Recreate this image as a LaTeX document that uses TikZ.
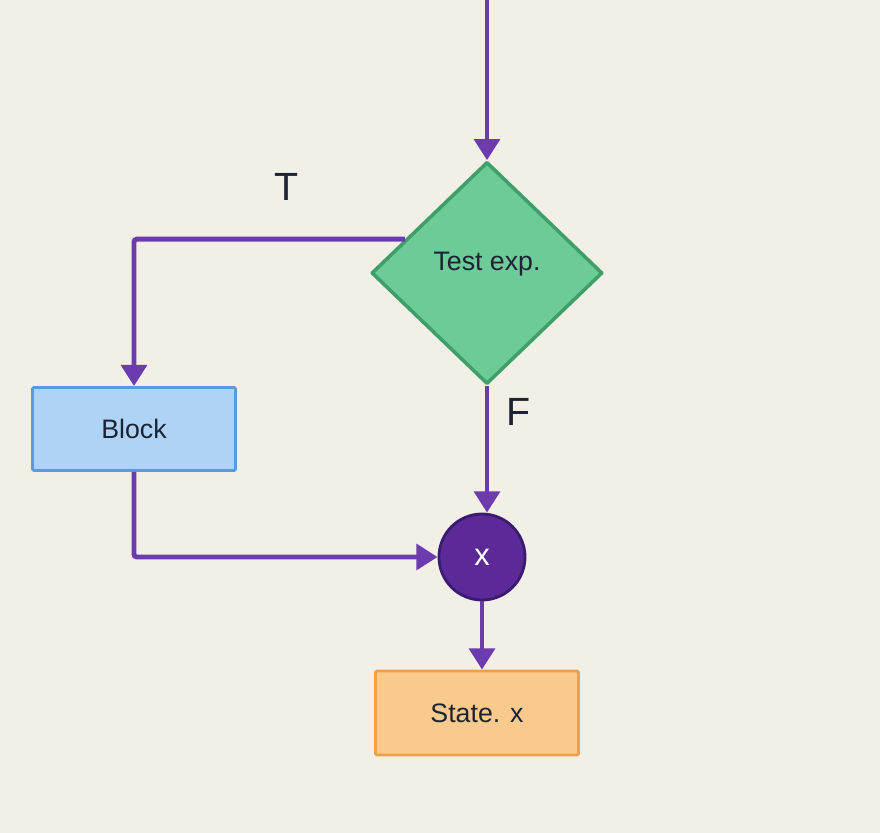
\documentclass[tikz,border=0pt]{standalone}
\usepackage{fontspec}
\setmainfont{Liberation Sans}
\usetikzlibrary{shapes.geometric,arrows.meta,calc}

\definecolor{paper}{HTML}{F2EFE7}
\definecolor{flow}{HTML}{6C3CAE}
\definecolor{ink}{HTML}{1C2433}
\definecolor{testfill}{HTML}{6DCB98}
\definecolor{testline}{HTML}{3E9F68}
\definecolor{blockfill}{HTML}{AFD3F6}
\definecolor{blockline}{HTML}{5E9ADB}
\definecolor{mergefill}{HTML}{5B2A98}
\definecolor{mergeline}{HTML}{3C1A70}
\definecolor{statefill}{HTML}{FAC98C}
\definecolor{stateline}{HTML}{EFA04C}

\tikzset{
	txt/.style={font=\fontsize{19}{23}\selectfont, text=ink},
	decision/.style={diamond, draw=testline, fill=testfill, line width=2.5pt, line join=round, minimum width=5.775cm, minimum height=5.55cm, inner sep=0pt, txt},
	blockbox/.style={rectangle, draw=blockline, fill=blockfill, line width=2pt, rounded corners=1pt, minimum width=5.075cm, minimum height=2.075cm, txt},
	statebox/.style={rectangle, draw=stateline, fill=statefill, line width=2pt, rounded corners=1pt, minimum width=5.075cm, minimum height=2.1cm, txt},
	merge/.style={circle, draw=mergeline, fill=mergefill, line width=2pt, minimum size=2.15cm, inner sep=0pt, font=\fontsize{22}{26}\selectfont, text=white},
	flowline/.style={draw=flow, line width=3.5pt, -{Triangle[width=18pt,length=15pt]}},
	branch/.style={font=\fontsize{28}{32}\selectfont, text=ink}
}

\begin{document}
\begin{tikzpicture}[x=0.025cm,y=-0.025cm]
	% Background
	\fill[paper] (0,0) rectangle (880,833);
	\useasboundingbox (0,0) rectangle (880,833);
	% The nodes
	\node[decision] (test) at (487,273) {\raisebox{17pt}{Test exp.}};
	\node[blockbox] (block) at (134,429) {Block};
	\node[merge] (join) at (482,557) {x};
	\node[statebox] (state) at (477,713) {State. x};
	% Free ends
	\coordinate (entry) at (487,0);
	\coordinate (tleft) at ($(test.west)!0.3!(test.north)$);
	% Draw the connectors
	\draw[flowline] (entry) -- (test.north);
	\draw[flowline, rounded corners=2pt] (tleft) -| (block.north);
	\draw[flowline] (test.south) -- (test.south |- join.north);
	\draw[flowline, rounded corners=2pt] (block.south) |- (join.west);
	\draw[flowline] (join.south) -- (join.south |- state.north);
	% Label the branches
	\node[branch] (tlabel) at (287,187) {T};
	\node[branch] (flabel) at (519,412) {F};
\end{tikzpicture}
\end{document}
